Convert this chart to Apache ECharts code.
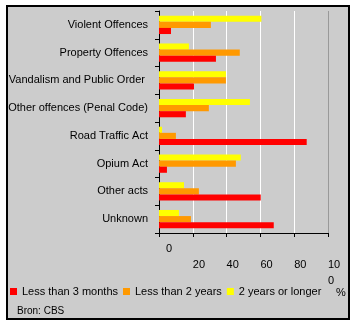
<!DOCTYPE html>
<html><head><meta charset="utf-8">
<script src="https://cdn.jsdelivr.net/npm/echarts@6/dist/echarts.min.js"></script>
<style>
html,body{margin:0;padding:0;background:#fff;}
#frame{position:absolute;left:6px;top:5px;width:340px;height:311px;border:2px solid #000;background:#cccccc;}
#chart{position:absolute;left:0;top:0;width:356px;height:326px;}
</style></head><body>
<div id="frame"></div>
<div id="chart"></div>
<script>
const categories = ['Violent Offences','Property Offences','Vandalism and Public Order ','Other offences (Penal Code)','Road Traffic Act','Opium Act','Other acts','Unknown'];
const lessThan3Months = [7.1, 33.7, 20.7, 15.9, 87.4, 4.7, 60.2, 67.9];
const lessThan2Years = [30.7, 47.8, 39.6, 29.5, 10.0, 45.5, 23.6, 18.9];
const twoYearsOrLonger = [60.6, 17.7, 39.6, 53.8, 1.8, 48.4, 14.8, 11.8];
const seriesNames = ['Less than 3 months','Less than 2 years','2 years or longer'];
const xTicks = [0, 20, 40, 60, 80, 100];

const font = 'Liberation Sans, Arial, sans-serif';
const chart = echarts.init(document.getElementById('chart'));
chart.setOption({
  animation: false,
  textStyle: {fontFamily: font},
  grid: {left: 159, right: 28, top: 11, bottom: 93},
  legend: {
    data: seriesNames, left: 10, top: 286, padding: 0, icon: 'rect', itemWidth: 7, itemHeight: 7, itemGap: 5,
    textStyle: {fontFamily: font, fontSize: 11, color: '#000'}
  },
  xAxis: {
    type: 'value', min: xTicks[0], max: xTicks[xTicks.length-1], interval: 20,
    axisLine: {show: true, lineStyle: {color: '#000', width: 1}},
    axisTick: {show: true, length: 4, lineStyle: {color: '#000'}},
    splitLine: {show: true, lineStyle: {color: ['#ffffff','#ffffff','#ffffff','#ffffff','#ffffff','#999999'], width: 1}},
    axisLabel: {
      margin: 8, align: 'left', verticalAlign: 'top', color: '#000', fontSize: 11, fontFamily: font, lineHeight: 16,
      formatter: function (v) {
        if (v === 0) return '{z|0}';
        if (v === 100) return '\n10\n0';
        return '\n' + v;
      },
      rich: {z: {padding: [0,0,0,7], lineHeight: 16, fontSize: 11, color: '#000', fontFamily: font}}
    }
  },
  yAxis: {
    type: 'category', data: categories, inverse: true,
    axisLine: {show: true, lineStyle: {color: '#000'}},
    axisTick: {show: true, length: 4, lineStyle: {color: '#000'}},
    axisLabel: {margin: 11, color: '#000', fontSize: 11, fontFamily: font}
  },
  series: [
    {name: seriesNames[2], type: 'bar', data: twoYearsOrLonger, itemStyle: {color: '#ffff00'}, barGap: '0%', barCategoryGap: '34%'},
    {name: seriesNames[1], type: 'bar', data: lessThan2Years, itemStyle: {color: '#ff9900'}},
    {name: seriesNames[0], type: 'bar', data: lessThan3Months, itemStyle: {color: '#ff0000'}}
  ],
  graphic: [
    {type: 'text', left: 336, top: 287, style: {text: '%', fontSize: 11, fontFamily: font, fill: '#000'}},
    {type: 'text', left: 17, top: 306, style: {text: 'Bron: CBS', fontSize: 10, fontFamily: font, fill: '#000'}}
  ]
});
</script>
</body></html>
